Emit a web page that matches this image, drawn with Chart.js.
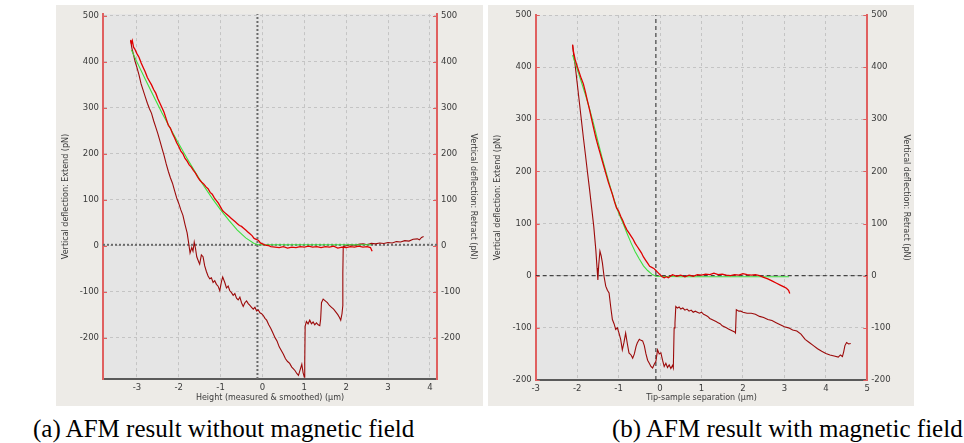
<!DOCTYPE html>
<html>
<head>
<meta charset="utf-8">
<script src="https://cdn.jsdelivr.net/npm/chart.js@4.4.1/dist/chart.umd.min.js"></script>
<style>
  html, body { margin: 0; padding: 0; background: #ffffff; }
  body { width: 964px; height: 443px; position: relative; overflow: hidden; }
  .panel { position: absolute; top: 5px; }
  .caption { position: absolute; top: 416px; font-family: "Liberation Serif", "Times New Roman", serif; font-size: 25px; line-height: 25px; color: #000; white-space: nowrap; }
</style>
</head>
<body>
<div class="panel" style="left:56px;"><canvas id="chartA" width="427" height="401"></canvas></div>
<div class="panel" style="left:488px;"><canvas id="chartB" width="426" height="401"></canvas></div>
<div class="caption" style="left:33px;">(a) AFM result without magnetic field</div>
<div class="caption" style="left:612px;">(b) AFM result with magnetic field</div>
<script>
// ---- data: (a) without magnetic field, x in um, y in pN ----
const aExtend = [
  [-3.15,448],[-3.13,440],[-3.11,446],[-3.08,432],[-3.05,428],[-3.0,418],[-2.95,410],[-2.9,398],
  [-2.85,388],[-2.8,378],[-2.75,366],[-2.7,358],[-2.65,350],[-2.6,340],[-2.55,332],[-2.5,320],
  [-2.45,310],[-2.4,300],[-2.35,290],[-2.3,276],[-2.25,262],[-2.2,256],[-2.15,244],[-2.1,235],
  [-2.05,224],[-2.0,216],[-1.95,206],[-1.9,200],[-1.85,190],[-1.8,184],[-1.75,176],[-1.7,171],
  [-1.65,164],[-1.6,158],[-1.55,150],[-1.5,143],[-1.45,138],[-1.4,134],[-1.35,128],[-1.3,124],
  [-1.25,116],[-1.2,112],[-1.15,104],[-1.1,98],[-1.05,92],[-1.0,84],[-0.95,76],[-0.9,72],
  [-0.85,68],[-0.8,64],[-0.75,60],[-0.7,56],[-0.65,52],[-0.6,48],[-0.55,44],[-0.5,42],
  [-0.45,38],[-0.4,34],[-0.35,30],[-0.3,26],[-0.25,22],[-0.2,16],[-0.15,14],[-0.1,12],
  [-0.05,6],[0,4],[0.05,2],[0.1,1],[0.15,0],[0.2,-2],[0.3,-3],[0.4,-4],[0.5,-2],[0.6,-5],
  [0.7,-3],[0.8,-4],[0.9,-2],[1.0,-3],[1.1,-1],[1.2,-3],[1.3,-2],[1.4,-4],[1.5,-2],[1.6,-3],
  [1.7,-1],[1.8,-5],[1.9,-3],[2.0,-4],[2.1,-2],[2.2,-3],[2.3,-1],[2.4,-3],[2.5,-2],[2.58,-4],
  [2.62,-12]
];
const aRetract = [
  [-3.15,446],[-3.12,430],[-3.08,415],[-3.04,400],[-3.0,388],[-2.95,372],[-2.9,352],[-2.85,338],
  [-2.8,324],[-2.75,310],[-2.7,298],[-2.65,288],[-2.6,272],[-2.55,258],[-2.5,244],[-2.45,228],
  [-2.4,212],[-2.35,196],[-2.3,178],[-2.25,162],[-2.2,148],[-2.15,136],[-2.1,120],[-2.05,104],
  [-2.0,92],[-1.95,78],[-1.9,66],[-1.85,46],[-1.8,28],[-1.77,10],[-1.73,-16],[-1.69,-4],
  [-1.66,-12],[-1.63,8],[-1.6,-6],[-1.57,-24],[-1.52,-36],[-1.5,-40],[-1.46,-20],[-1.42,-24],
  [-1.38,-44],[-1.34,-56],[-1.3,-66],[-1.26,-72],[-1.22,-70],[-1.18,-80],[-1.14,-76],[-1.1,-84],
  [-1.06,-88],[-1.02,-98],[-0.98,-78],[-0.95,-68],[-0.9,-80],[-0.86,-92],[-0.82,-88],[-0.78,-98],
  [-0.74,-102],[-0.7,-108],[-0.66,-104],[-0.62,-114],[-0.58,-118],[-0.54,-112],[-0.5,-124],
  [-0.46,-132],[-0.42,-124],[-0.38,-120],[-0.34,-126],[-0.3,-130],[-0.26,-134],[-0.22,-138],
  [-0.18,-134],[-0.14,-142],[-0.1,-140],[-0.06,-146],[-0.02,-148],[0.02,-152],[0.06,-158],
  [0.1,-162],[0.15,-172],[0.2,-180],[0.25,-190],[0.3,-200],[0.35,-208],[0.4,-220],[0.45,-228],
  [0.5,-236],[0.55,-246],[0.6,-252],[0.65,-256],[0.7,-264],[0.74,-268],[0.78,-272],[0.82,-278],
  [0.86,-282],[0.9,-270],[0.94,-258],[0.97,-276],[1.0,-286],[1.01,-255],[1.02,-175],[1.05,-165],
  [1.09,-170],[1.13,-162],[1.17,-170],[1.21,-166],[1.25,-172],[1.29,-168],[1.33,-172],[1.37,-174],
  [1.39,-160],[1.41,-124],[1.45,-116],[1.5,-120],[1.55,-124],[1.6,-130],[1.65,-134],[1.7,-138],
  [1.75,-144],[1.8,-150],[1.84,-156],[1.87,-162],[1.9,-148],[1.92,-130],[1.92,-60],[1.93,-2],
  [2.0,0],[2.1,2],[2.2,1],[2.3,3],[2.4,4],[2.5,2],[2.6,5],[2.7,4],[2.8,6],[2.9,5],[3.0,7],
  [3.1,6],[3.2,9],[3.3,8],[3.4,11],[3.5,10],[3.6,14],[3.7,15],[3.75,13],[3.8,18],[3.85,20]
];
const aFit = [
  [-3.13,426],[-3.0,400],[-2.8,362],[-2.6,325],[-2.4,289],[-2.2,255],[-2.0,222],[-1.8,190],
  [-1.6,159],[-1.4,130],[-1.2,103],[-1.0,78],[-0.8,55],[-0.6,34],[-0.4,17],[-0.2,5],[-0.1,2],
  [0.5,2],[1.5,2],[2.6,2]
];
const aContactX = -0.12;
const aBaselineY = 2;

// ---- data: (b) with magnetic field ----
const bExtend = [
  [-2.11,443],[-2.09,430],[-2.05,415],[-2.0,402],[-1.95,390],[-1.9,378],[-1.85,368],[-1.8,352],
  [-1.75,335],[-1.7,318],[-1.65,300],[-1.6,282],[-1.55,265],[-1.5,250],[-1.45,236],[-1.4,222],
  [-1.35,208],[-1.3,194],[-1.25,180],[-1.2,168],[-1.15,156],[-1.1,142],[-1.05,130],[-1.0,124],
  [-0.95,114],[-0.9,106],[-0.85,96],[-0.8,88],[-0.75,82],[-0.7,76],[-0.65,70],[-0.6,62],
  [-0.55,56],[-0.5,50],[-0.45,44],[-0.4,36],[-0.35,30],[-0.3,24],[-0.25,18],[-0.2,16],
  [-0.15,14],[-0.1,10],[-0.05,6],[0,2],[0.05,-2],[0.1,-4],[0.15,-2],[0.2,-4],[0.3,2],[0.4,-1],
  [0.5,1],[0.6,-2],[0.7,1],[0.8,-1],[0.9,2],[1.0,1],[1.1,3],[1.2,2],[1.3,5],[1.4,2],[1.5,3],
  [1.6,1],[1.7,0],[1.8,2],[1.9,1],[2.0,4],[2.1,2],[2.2,1],[2.3,2],[2.4,0],[2.5,-3],[2.6,-6],
  [2.7,-10],[2.8,-14],[2.9,-18],[3.0,-22],[3.05,-24],[3.1,-28],[3.13,-34]
];
const bRetract = [
  [-2.11,443],[-2.08,420],[-2.05,405],[-2.0,370],[-1.95,335],[-1.9,300],[-1.85,265],[-1.8,232],
  [-1.75,198],[-1.7,165],[-1.65,130],[-1.6,95],[-1.55,50],[-1.52,15],[-1.5,-8],[-1.48,20],
  [-1.45,47],[-1.42,38],[-1.39,24],[-1.35,-2],[-1.31,-20],[-1.27,-28],[-1.23,-33],[-1.19,-60],
  [-1.15,-84],[-1.11,-92],[-1.07,-103],[-1.03,-100],[-0.99,-110],[-0.95,-122],[-0.91,-142],
  [-0.87,-128],[-0.83,-110],[-0.79,-130],[-0.75,-148],[-0.7,-152],[-0.66,-158],[-0.62,-150],
  [-0.58,-136],[-0.55,-129],[-0.5,-122],[-0.46,-124],[-0.42,-125],[-0.38,-134],[-0.34,-150],
  [-0.3,-162],[-0.26,-168],[-0.22,-174],[-0.18,-177],[-0.14,-170],[-0.1,-164],[-0.06,-142],
  [-0.02,-150],[0.02,-148],[0.06,-162],[0.1,-174],[0.14,-168],[0.18,-176],[0.22,-171],
  [0.26,-178],[0.3,-172],[0.32,-177],[0.34,-100],[0.36,-90],[0.38,-59],[0.42,-62],[0.46,-60],
  [0.5,-64],[0.55,-62],[0.6,-66],[0.65,-64],[0.7,-68],[0.75,-66],[0.8,-70],[0.85,-68],
  [0.9,-70],[0.95,-72],[1.0,-70],[1.05,-74],[1.1,-76],[1.15,-78],[1.2,-82],[1.25,-84],
  [1.3,-86],[1.35,-88],[1.4,-90],[1.45,-92],[1.5,-96],[1.55,-98],[1.6,-100],[1.65,-102],
  [1.7,-104],[1.75,-106],[1.8,-108],[1.82,-110],[1.84,-65],[1.9,-68],[1.95,-68],[2.0,-70],
  [2.1,-72],[2.2,-72],[2.3,-74],[2.4,-78],[2.5,-80],[2.6,-84],[2.7,-86],[2.8,-90],[2.9,-94],
  [3.0,-98],[3.1,-100],[3.2,-104],[3.3,-106],[3.4,-112],[3.5,-122],[3.6,-128],[3.7,-134],
  [3.8,-140],[3.9,-145],[4.0,-149],[4.1,-152],[4.2,-154],[4.3,-156],[4.35,-152],[4.4,-155],
  [4.43,-146],[4.46,-134],[4.5,-128],[4.55,-131],[4.6,-130]
];
const bFit = [
  [-2.11,423],[-2.0,397],[-1.9,372],[-1.8,347],[-1.7,320],[-1.6,290],[-1.5,258],[-1.4,227],
  [-1.3,198],[-1.2,170],[-1.1,144],[-1.0,120],[-0.9,102],[-0.8,82],[-0.7,63],[-0.6,46],
  [-0.5,32],[-0.4,19],[-0.3,10],[-0.2,3],[-0.1,-1],[0.5,-2],[1.5,-2],[2.5,-2],[3.11,-2]
];
const bContactX = -0.1;
const bBaselineY = 0;

// ---- axes ----
const aXTicks = [-3, -2, -1, 0, 1, 2, 3, 4];
const bXTicks = [-3, -2, -1, 0, 1, 2, 3, 4, 5];
const yTicks = [-200, -100, 0, 100, 200, 300, 400, 500];

const PANEL_BG = '#edebe7';
const PLOT_BG = '#e5e5e5';
const EXTEND_RED = '#e00000';
const RETRACT_RED = '#9c0a0a';
const FIT_GREEN = '#3fe03f';
const AXIS_RED = '#e06060';
const TEXT = '#3a3a3a';

const toXY = pairs => pairs.map(([x, y]) => ({ x, y }));

const bgPlugin = {
  id: 'bg',
  beforeDraw(chart) {
    const { ctx, chartArea } = chart;
    ctx.save();
    ctx.fillStyle = PANEL_BG;
    ctx.fillRect(0, 0, chart.width, chart.height);
    ctx.fillStyle = PLOT_BG;
    ctx.fillRect(chartArea.left, chartArea.top, chartArea.right - chartArea.left, chartArea.bottom - chartArea.top);
    ctx.restore();
  }
};

// small red tick marks pointing into the plot on both y axes
const inwardTicks = {
  id: 'inwardTicks',
  afterDraw(chart) {
    const { ctx, chartArea, scales } = chart;
    ctx.save();
    ctx.strokeStyle = AXIS_RED;
    ctx.lineWidth = 1;
    yTicks.forEach(v => {
      const py = Math.round(scales.y.getPixelForValue(v)) + 0.5;
      ctx.beginPath();
      ctx.moveTo(chartArea.left, py); ctx.lineTo(chartArea.left + 4, py);
      ctx.moveTo(chartArea.right, py); ctx.lineTo(chartArea.right - 4, py);
      ctx.stroke();
    });
    ctx.restore();
  }
};

function makeChart(id, cfg) {
  const line = (data, color, width, extra) => Object.assign({
    data: toXY(data), borderColor: color, borderWidth: width, showLine: true,
    pointRadius: 0, fill: false, tension: 0, yAxisID: 'y'
  }, extra || {});

  const xMin = cfg.xRange[0], xMax = cfg.xRange[1];
  const yMin = cfg.yRange[0], yMax = cfg.yRange[1];

  const tickFont = { family: 'DejaVu Sans', size: 8.5 };
  const titleFont = { family: 'DejaVu Sans', size: 8 };
  const gridOpts = { color: '#c4c4c4', lineWidth: 1, drawTicks: false };

  return new Chart(document.getElementById(id), {
    type: 'scatter',
    data: {
      datasets: [
        line(cfg.extend, EXTEND_RED, 1.3),
        line(cfg.fit, FIT_GREEN, 1.1),
        line(cfg.retract, RETRACT_RED, 1.1),
        line([[cfg.contactX, yMin], [cfg.contactX, yMax]], cfg.guideColor, cfg.guideWidth, { borderDash: cfg.guideDash }),
        line([[xMin, cfg.baselineY], [xMax, cfg.baselineY]], cfg.guideColor, cfg.guideWidth, { borderDash: cfg.guideDash })
      ]
    },
    options: {
      responsive: false,
      animation: false,
      devicePixelRatio: 1,
      layout: { autoPadding: false, padding: { top: cfg.pad.top, left: 0, right: 0, bottom: 0 } },
      plugins: { legend: { display: false }, tooltip: { enabled: false } },
      scales: {
        x: {
          type: 'linear', position: 'bottom', min: xMin, max: xMax,
          afterBuildTicks: s => { s.ticks = cfg.xTicks.map(v => ({ value: v })); },
          afterFit: s => { s.height = cfg.pad.bottom; },
          grid: gridOpts,
          border: { color: '#5a5a5a', width: 2, dash: [3, 3] },
          ticks: { font: tickFont, color: TEXT, padding: 4, maxRotation: 0 },
          title: { display: true, text: cfg.xTitle, font: titleFont, color: TEXT, padding: { top: 0, bottom: 3 } }
        },
        y: {
          type: 'linear', position: 'left', min: yMin, max: yMax,
          afterBuildTicks: s => { s.ticks = yTicks.map(v => ({ value: v })); },
          afterFit: s => { s.width = cfg.pad.left; },
          grid: gridOpts,
          border: { color: AXIS_RED, width: 2, dash: [3, 3] },
          ticks: { font: tickFont, color: TEXT, padding: 4 },
          title: { display: true, text: 'Vertical deflection: Extend (pN)', font: titleFont, color: TEXT, padding: { top: cfg.titlePad[0], bottom: 0 } }
        },
        y2: {
          type: 'linear', position: 'right', min: yMin, max: yMax,
          afterBuildTicks: s => { s.ticks = yTicks.map(v => ({ value: v })); },
          afterFit: s => { s.width = cfg.pad.right; },
          grid: { drawOnChartArea: false, drawTicks: false },
          border: { color: AXIS_RED, width: 2 },
          ticks: { font: tickFont, color: TEXT, padding: 4 },
          title: { display: true, text: 'Vertical deflection: Retract (pN)', font: titleFont, color: TEXT, padding: { top: cfg.titlePad[1], bottom: 0 } }
        }
      }
    },
    plugins: [bgPlugin, inwardTicks]
  });
}

makeChart('chartA', {
  extend: aExtend, retract: aRetract, fit: aFit,
  contactX: aContactX, baselineY: aBaselineY,
  xRange: [-3.81, 4.17], yRange: [-290, 504],
  xTicks: aXTicks,
  xTitle: 'Height (measured & smoothed) (µm)',
  guideColor: '#6a6a6a', guideWidth: 2, guideDash: [2, 2],
  pad: { top: 9, bottom: 27, left: 47, right: 46 },
  titlePad: [5, 5]
});

makeChart('chartB', {
  extend: bExtend, retract: bRetract, fit: bFit,
  contactX: bContactX, baselineY: bBaselineY,
  xRange: [-3, 5], yRange: [-200, 500],
  xTicks: bXTicks,
  xTitle: 'Tip-sample separation (µm)',
  guideColor: '#222222', guideWidth: 1, guideDash: [4, 3],
  pad: { top: 10, bottom: 26, left: 47.7, right: 46.7 },
  titlePad: [5, 3.5]
});
</script>
</body>
</html>
